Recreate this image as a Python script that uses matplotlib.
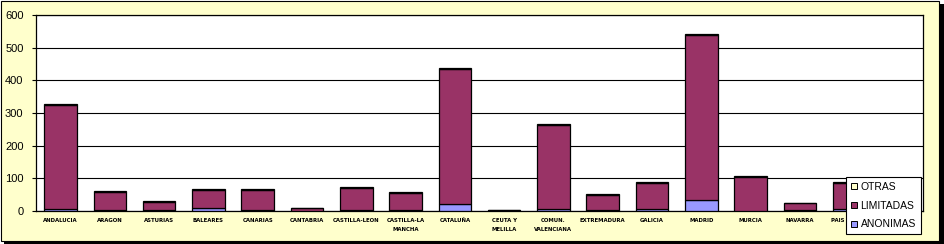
import matplotlib

matplotlib.use("Agg")
import matplotlib.pyplot as plt
import numpy as np
from matplotlib.lines import Line2D
from matplotlib.patches import Rectangle

regions = [
    "ANDALUCIA", "ARAGON", "ASTURIAS", "BALEARES", "CANARIAS", "CANTABRIA",
    "CASTILLA-LEON", "CASTILLA-LA\nMANCHA", "CATALUÑA", "CEUTA Y\nMELILLA",
    "COMUN.\nVALENCIANA", "EXTREMADURA", "GALICIA", "MADRID", "MURCIA",
    "NAVARRA", "PAIS VASCO", "LA RIOJA",
]
anonimas = [7, 4, 2, 8, 4, 1, 4, 2, 22, 0, 6, 4, 6, 33, 1, 3, 6, 1]
limitadas = [318, 55, 27, 57, 61, 7, 67, 54, 412, 2, 258, 46, 81, 506, 104, 20, 81, 12]
otras = [2, 1, 1, 1, 1, 0.5, 1, 1, 3, 0.5, 1, 1, 1, 2, 1, 1, 1, 0.5]

yticks = [0, 100, 200, 300, 400, 500, 600]

C_ANON = "#9999ff"
C_LIM = "#993366"
C_OTR = "#ffffcc"
BG = "#ffffcc"

W, H = 944, 244
fig = plt.figure(figsize=(W / 100, H / 100), dpi=100)
fig.patch.set_facecolor("white")

# frame with drop shadow
fig.patches.append(Rectangle((4 / W, 0), 940 / W, 240 / H, transform=fig.transFigure,
                             facecolor="black", edgecolor="none", zorder=-3))
fig.patches.append(Rectangle((0.5 / W, 3.5 / H), 938.5 / W, 240 / H, transform=fig.transFigure,
                             facecolor=BG, edgecolor="black", linewidth=0.8, zorder=-2))

ax = fig.add_axes([36 / W, (H - 211) / H, (923 - 36) / W, (211 - 15) / H])
ax.set_facecolor("white")

x = np.arange(len(regions))
bw = 0.66
ekw = dict(edgecolor="black", linewidth=0.9, zorder=3)
ax.bar(x, anonimas, bw, color=C_ANON, **ekw)
ax.bar(x, limitadas, bw, bottom=anonimas, color=C_LIM, **ekw)
ax.bar(x, otras, bw, bottom=np.add(anonimas, limitadas), color=C_OTR, **ekw)

ax.set_xlim(-0.5, len(regions) - 0.5)
ax.set_ylim(0, 600)
ax.set_yticks(yticks)
ax.set_yticklabels([str(v) for v in yticks], fontsize=8, family="Liberation Sans")
ax.tick_params(axis="y", length=3, width=0.8, pad=6)
ax.set_xticks(x)
ax.set_xticklabels(regions, fontsize=3.9, fontweight="bold", linespacing=1.9)
ax.tick_params(axis="x", length=0, pad=5)
ax.grid(axis="y", color="black", linewidth=0.8, zorder=1)
ax.set_axisbelow(True)
for s in ax.spines.values():
    s.set_linewidth(0.9)
    s.set_color("black")

handles = [
    Line2D([], [], marker="s", linestyle="none", markersize=4.2, markerfacecolor=c,
           markeredgecolor="black", markeredgewidth=0.7)
    for c in (C_OTR, C_LIM, C_ANON)
]
leg = ax.legend(handles, ["OTRAS", "LIMITADAS", "ANONIMAS"], loc="upper left",
                bbox_to_anchor=(846 / W, (H - 177) / H), bbox_transform=fig.transFigure,
                prop={"family": "Liberation Sans", "size": 7.5}, frameon=True,
                fancybox=False, edgecolor="black", framealpha=1, handlelength=0.6,
                handletextpad=0.35, labelspacing=0.85, borderpad=0.45, borderaxespad=0)
leg.get_frame().set_linewidth(0.8)

fig.savefig("out.png", dpi=100, facecolor=fig.get_facecolor())
